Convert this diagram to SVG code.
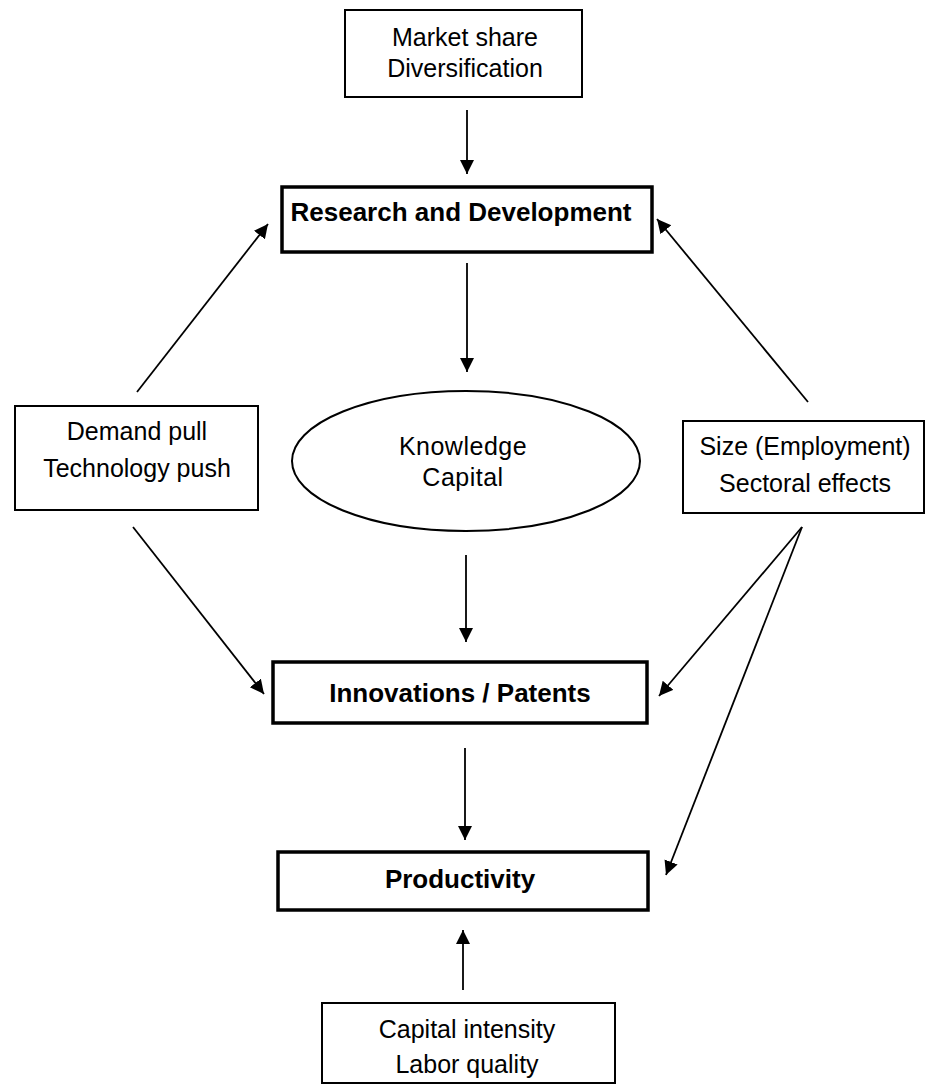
<svg xmlns="http://www.w3.org/2000/svg" width="926" height="1087" viewBox="0 0 926 1087">
<style>
.box{fill:#fff;stroke:#000;stroke-width:2}
.bold{fill:#fff;stroke:#000;stroke-width:3.5}
.t{font-family:"Liberation Sans",Arial,sans-serif;font-size:25px;fill:#000;text-anchor:middle}
.tb{font-family:"Liberation Sans",Arial,sans-serif;font-size:26px;font-weight:bold;fill:#000;text-anchor:middle}
.c{stroke:#000;stroke-width:1.8;fill:none;marker-end:url(#ah)}
</style>
<defs>
<marker id="ah" markerUnits="userSpaceOnUse" markerWidth="16" markerHeight="16" refX="14" refY="7" orient="auto">
<path d="M0,0 L14,7 L0,14 Z" fill="#000"/>
</marker>
</defs>
<rect width="926" height="1087" fill="#fff"/>
<g id="connectors">
<line class="c" x1="467" y1="110" x2="467" y2="174"/>
<line class="c" x1="467" y1="263" x2="467" y2="372"/>
<line class="c" x1="466" y1="555" x2="466" y2="642"/>
<line class="c" x1="465" y1="748" x2="465" y2="840"/>
<line class="c" x1="463" y1="990" x2="463" y2="930"/>
<line class="c" x1="137" y1="392" x2="268" y2="224"/>
<line class="c" x1="808" y1="402" x2="657" y2="219"/>
<line class="c" x1="133" y1="527" x2="264" y2="694"/>
<line class="c" x1="802" y1="527" x2="659" y2="696"/>
<line class="c" x1="802" y1="527" x2="666" y2="875"/>
</g>
<g id="market">
<rect class="box" x="345" y="10" width="237" height="87"/>
<text class="t" x="465" y="46">Market share</text>
<text class="t" x="465" y="77">Diversification</text>
</g>
<g id="rd">
<rect class="bold" x="282" y="187" width="370" height="65"/>
<text class="tb" x="461" y="221">Research and Development</text>
</g>
<g id="knowledge">
<ellipse cx="466" cy="461" rx="174" ry="70" fill="#fff" stroke="#000" stroke-width="2"/>
<text class="t" x="463" y="455" letter-spacing="0.5">Knowledge</text>
<text class="t" x="463" y="486" letter-spacing="0.5">Capital</text>
</g>
<g id="demand">
<rect class="box" x="15" y="406" width="243" height="104"/>
<text class="t" x="137" y="440">Demand pull</text>
<text class="t" x="137" y="477">Technology push</text>
</g>
<g id="size">
<rect class="box" x="683" y="421" width="241" height="92"/>
<text class="t" x="805" y="455">Size (Employment)</text>
<text class="t" x="805" y="492">Sectoral effects</text>
</g>
<g id="innovations">
<rect class="bold" x="273" y="662" width="374" height="61"/>
<text class="tb" x="460" y="702">Innovations / Patents</text>
</g>
<g id="productivity">
<rect class="bold" x="278" y="852" width="370" height="58"/>
<text class="tb" x="460" y="888">Productivity</text>
</g>
<g id="capital">
<rect class="box" x="322" y="1003" width="293" height="80"/>
<text class="t" x="467" y="1038">Capital intensity</text>
<text class="t" x="467" y="1073">Labor quality</text>
</g>
</svg>
